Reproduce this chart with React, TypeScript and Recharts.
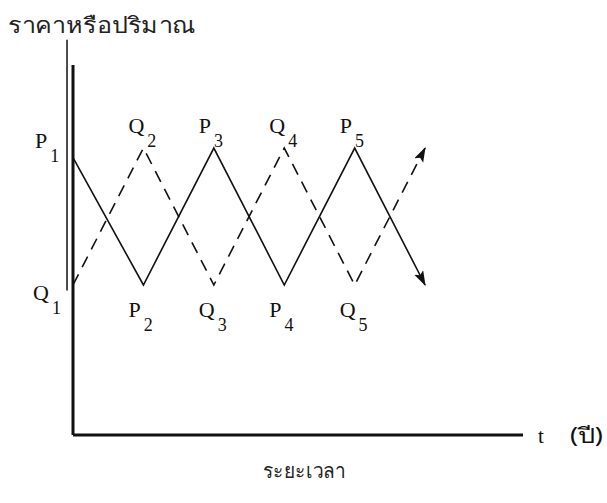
import { LineChart, Line, XAxis, YAxis, LabelList, Label, ReferenceLine } from 'recharts';

// time index along the horizontal axis
const periods = [0, 1, 2, 3, 4, 5];
// price path (solid) and quantity path (dashed), 1 = high, 0 = low
const priceP = [0.93, 0, 1, 0, 1, 0];
const quantityQ = [0, 1, 0, 1, 0, 1];
// subscript of each turning point label ('' = arrow end, no label)
const priceSubs = ['1', '2', '3', '4', '5', ''];
const quantitySubs = ['1', '2', '3', '4', '5', ''];

const yTitle = 'ราคาหรือปริมาณ';
const xTitle = 'ระยะเวลา';
const xUnit = 't';
const xUnitThai = '(ปี)';

const data = periods.map((t, i) => ({
    t,
    p: priceP[i],
    q: quantityQ[i],
    pSub: priceSubs[i],
    qSub: quantitySubs[i],
}));

const serif = '"Liberation Serif", "DejaVu Serif", serif';
const thai = '"Noto Sans", "DejaVu Sans", sans-serif';

function makePointLabel(letter: string, values: number[]) {
    return (props: any) => {
        const { x, y, index, value } = props;
        if (!value) return null;
        let tx = x - 15;
        let ty = values[index] >= 0.5 ? y - 15 : y + 32;
        if (index === 0) {
            tx = letter === 'P' ? x - 38 : x - 40;
            ty = letter === 'P' ? y - 10 : y + 15;
        }
        return (
            <text x={tx} y={ty} fontFamily={serif} fontSize={22} fill="#111">
                {letter}
                <tspan dx={3} dy={14} fontSize={18}>{value}</tspan>
            </text>
        );
    };
}

export default function App() {
    return (
        <div style={{ position: 'absolute', left: 0, top: 0, width: 607, height: 503, background: '#fff' }}>
            <LineChart
                width={607}
                height={503}
                data={data}
                margin={{ top: 65, right: 84, bottom: 58, left: 63 }}
            >
                <defs>
                    <marker
                        id="arrowHead"
                        markerUnits="userSpaceOnUse"
                        markerWidth={16}
                        markerHeight={12}
                        refX={14}
                        refY={5}
                        orient="auto"
                    >
                        <path d="M0,0 L15,5 L0,10 L3,5 z" fill="#111" />
                    </marker>
                </defs>
                <XAxis
                    dataKey="t"
                    type="number"
                    domain={[0, 6.39]}
                    allowDataOverflow
                    height={10}
                    tick={false}
                    tickLine={false}
                    axisLine={{ stroke: '#111', strokeWidth: 3 }}
                >
                    <Label
                        content={({ viewBox }: any) => (
                            <text y={viewBox.y + 8} fontFamily={serif} fontSize={21} fill="#111">
                                <tspan x={viewBox.x + viewBox.width + 15}>{xUnit}</tspan>
                                <tspan x={viewBox.x + viewBox.width + 47} fontFamily={thai} textLength={33} lengthAdjust="spacingAndGlyphs">{xUnitThai}</tspan>
                            </text>
                        )}
                    />
                    <Label
                        content={({ viewBox }: any) => (
                            <text
                                x={viewBox.x + viewBox.width / 2 - 35}
                                y={viewBox.y + 43}
                                fontFamily={thai}
                                fontSize={20}
                                fill="#222"
                                textLength={82}
                                lengthAdjust="spacingAndGlyphs"
                            >
                                {xTitle}
                            </text>
                        )}
                    />
                </XAxis>
                <YAxis
                    type="number"
                    domain={[-1.095, 1.606]}
                    allowDataOverflow
                    width={10}
                    tick={false}
                    tickLine={false}
                    axisLine={{ stroke: '#111', strokeWidth: 3 }}
                >
                    <Label
                        content={() => (
                            <text x={8} y={33} fontFamily={thai} fontSize={22} fill="#222" textLength={187} lengthAdjust="spacingAndGlyphs">
                                {yTitle}
                            </text>
                        )}
                    />
                </YAxis>
                {/* the scan shows a second, thinner stroke beside the vertical axis */}
                <ReferenceLine
                    segment={[{ x: -0.085, y: -0.04 }, { x: -0.085, y: 1.79 }]}
                    ifOverflow="visible"
                    stroke="#111"
                    strokeWidth={1.5}
                />
                <Line
                    dataKey="p"
                    type="linear"
                    stroke="#111"
                    strokeWidth={1.6}
                    dot={false}
                    activeDot={false}
                    markerEnd="url(#arrowHead)"
                    isAnimationActive={false}
                >
                    <LabelList dataKey="pSub" content={makePointLabel('P', priceP)} />
                </Line>
                <Line
                    dataKey="q"
                    type="linear"
                    stroke="#111"
                    strokeWidth={1.6}
                    strokeDasharray="12 8"
                    dot={false}
                    activeDot={false}
                    markerEnd="url(#arrowHead)"
                    isAnimationActive={false}
                >
                    <LabelList dataKey="qSub" content={makePointLabel('Q', quantityQ)} />
                </Line>
            </LineChart>
        </div>
    );
}
